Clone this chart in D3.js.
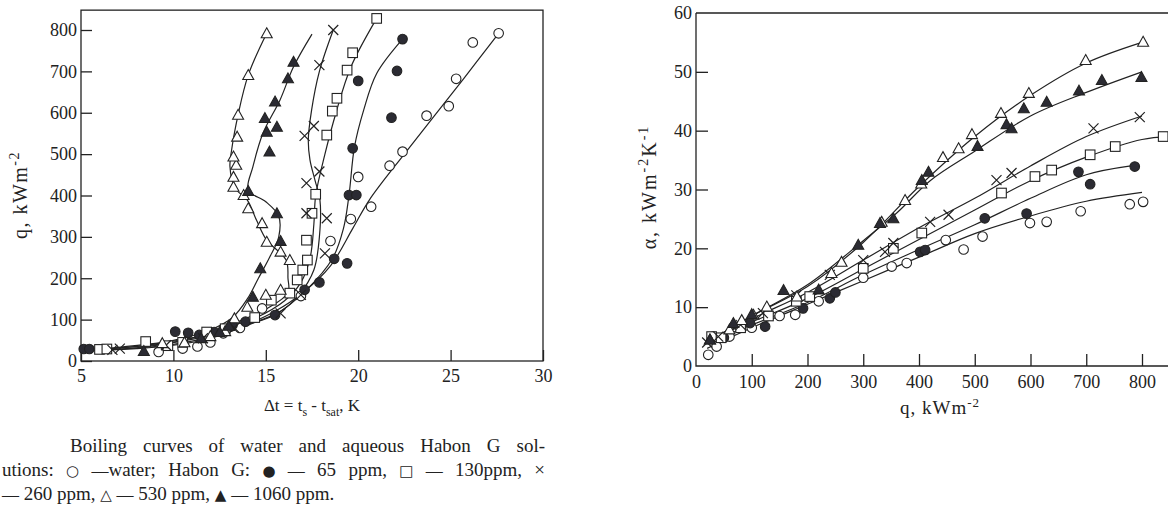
<!DOCTYPE html>
<html><head><meta charset="utf-8">
<script src="https://cdn.jsdelivr.net/npm/d3@7"></script>
<style>
html,body{margin:0;padding:0;background:#fff;}
svg{display:block;font-family:"Liberation Serif","Times New Roman",serif;}
</style></head>
<body><svg id="c" width="1168" height="520"></svg>
<script>
// ---------- DATA ----------
const seriesNames = ["water", "65 ppm", "130 ppm", "260 ppm", "530 ppm", "1060 ppm"];
const leftXTicks = [5, 10, 15, 20, 25, 30];
const leftYTicks = [0, 100, 200, 300, 400, 500, 600, 700, 800];
const rightXTicks = [0, 100, 200, 300, 400, 500, 600, 700, 800];
const rightYTicks = [0, 10, 20, 30, 40, 50, 60];

// Boiling curves: [delta t (K), q (kW/m2)]
const boilWater = [[9.2,22],[10.5,30],[11.3,35],[12.0,45],[12.7,67],[13.6,80],[14.8,127],[16.9,157],[18.5,290],[19.6,343],[20.7,373],[20.0,445],[21.7,472],[22.4,506],[23.7,593],[24.9,616],[25.3,682],[26.2,770],[27.6,792]];
const boil65 = [[5.15,29],[5.45,29],[10.1,71],[10.8,68],[11.4,63],[12.2,70],[13.2,87],[13.9,95],[15.5,111],[17.1,172],[17.9,190],[18.7,247],[19.4,236],[19.5,401],[19.9,401],[19.7,514],[20.0,677],[21.8,588],[22.1,701],[22.4,778]];
const boil130 = [[6.0,28],[6.4,29],[8.5,47],[9.7,37],[10.5,45],[11.8,70],[12.8,78],[14.4,105],[15.3,147],[16.3,164],[16.7,196],[17.0,220],[17.25,244],[17.2,292],[17.5,357],[17.7,403],[18.3,546],[18.6,604],[18.85,635],[19.4,703],[19.7,745],[21.0,828]];
const boil260 = [[6.7,27],[7.1,30],[9.6,38],[11.6,55],[13.3,80],[15.8,115],[16.9,160],[18.2,260],[17.2,357],[18.3,345],[17.2,430],[17.9,458],[17.1,544],[17.6,568],[17.9,715],[18.65,800]];
const boil530 = [[9.4,43],[10.6,45],[12.0,60],[12.8,72],[13.3,103],[14.0,131],[15.0,160],[15.8,172],[16.3,244],[15.8,264],[15.05,288],[14.8,333],[14.05,369],[13.8,401],[13.25,421],[13.25,445],[13.4,474],[13.25,494],[13.45,542],[13.5,595],[14.05,691],[15.05,792]];
const boil1060 = [[8.4,24],[11.5,55],[12.5,70],[13.0,85],[14.3,155],[14.7,224],[15.8,290],[15.6,357],[14.05,411],[15.2,506],[15.05,554],[15.6,566],[14.95,587],[15.5,627],[16.2,683],[16.5,723]];

// Boiling curve fitted lines
const fitWater = [[5.3,25],[8,30],[10,38],[12,55],[14,88],[15.5,120],[17,165],[18.5,230],[19.7,320],[20.6,389],[22.6,506],[25.7,682],[27.6,792]];
const fit65 = [[5.3,28],[8,35],[10,45],[12,62],[14,88],[15.5,112],[17.2,172],[18.6,247],[19.2,320],[19.5,400],[19.8,518],[20.3,607],[21.0,695],[22.4,778]];
const fit130 = [[6,28],[8.5,40],[10.5,52],[12.5,72],[14.5,105],[16,145],[16.9,190],[17.4,250],[17.6,330],[17.7,400],[18.2,500],[18.8,600],[19.6,710],[21.0,828]];
const fit260 = [[6.5,27],[9,35],[11,48],[13,70],[14.5,95],[15.8,120],[16.8,160],[17.6,220],[17.9,300],[17.93,389],[17.66,437],[17.39,486],[17.3,534],[17.48,607],[17.9,700],[18.65,800]];
const fit530 = [[6,27],[8,32],[10,45],[12,68],[13.5,95],[15,125],[16.2,165],[16.2,200],[16.1,244],[15.05,292],[14.5,340],[14.0,389],[13.33,418],[13.06,470],[13.15,510],[13.5,595],[14.05,691],[15.05,792]];
const fit1060 = [[6,28],[8,35],[10,50],[12,75],[13.2,105],[14.0,150],[14.6,200],[15.2,250],[15.7,300],[15.7,350],[15.0,385],[14.05,413],[14.3,469],[14.85,551],[15.77,631],[16.5,711],[17.5,790]];

// Heat transfer coefficient: [q (kW/m2), alpha (kW/m2K)]
const htcWater = [[22,1.9],[37,3.3],[60,5],[100,6.5],[150,8.5],[178,8.7],[220,11],[300,15],[351,16.9],[378,17.5],[448,21.4],[480,19.8],[514,22],[599,24.3],[629,24.5],[690,26.3],[778,27.5],[802,27.9]];
const htc65 = [[31,5],[50,4.8],[97,7.3],[124,6.7],[192,9.8],[240,11.5],[250,12.5],[402,19.4],[411,19.7],[518,25.1],[593,25.9],[686,33],[707,30.9],[787,33.9]];
const htc130 = [[28,5],[45,4.8],[80,6.5],[130,8.5],[180,11],[204,11.8],[300,16.6],[354,20],[405,22.6],[548,29.4],[608,32.2],[638,33.3],[707,35.9],[752,37.3],[838,39]];
const htc260 = [[20,4],[40,5],[80,7],[120,9],[180,12],[240,15.5],[300,18],[339,19.4],[354,20.9],[420,24.5],[453,25.7],[539,31.6],[566,32.8],[713,40.4],[796,42.3]];
const htc530 = [[25,4.5],[60,6.2],[82,7.8],[103,8.7],[127,10.1],[181,11.8],[243,15.8],[261,17.7],[333,24.5],[375,28.2],[404,31],[443,35.5],[471,37],[495,39.4],[547,43],[597,46.4],[699,52],[802,55.1]];
const htc1060 = [[25,4.5],[67,7.3],[100,8.8],[157,12.9],[220,13],[291,20.6],[330,24.3],[354,25.1],[405,31.6],[417,33],[505,37.4],[557,41.1],[566,40.4],[588,43.8],[629,44.9],[687,46.8],[728,48.6],[799,49.1]];

const htcFitWater = [[20,3],[100,6.5],[200,10.5],[300,14.5],[400,18.5],[500,22.5],[600,25.5],[700,28],[800,29.5]];
const htcFit65 = [[20,4],[100,7],[200,10.8],[300,15.5],[400,19.8],[500,24],[600,28.5],[700,32.5],[780,34]];
const htcFit130 = [[20,4.5],[100,7.5],[200,11.5],[300,16.5],[400,21.5],[500,26.5],[600,31.5],[700,35.5],[800,38.5],[850,39]];
const htcFit260 = [[20,4],[100,8],[200,12.5],[300,18],[400,23.5],[500,28.5],[600,34],[700,39],[800,42.5]];
const htcFit530 = [[20,4],[100,8.5],[200,13.5],[300,21],[400,30.5],[500,39],[600,46],[700,51.5],[800,55]];
const htcFit1060 = [[20,4],[100,8.5],[200,13.8],[300,21.3],[360,26],[420,31.5],[500,36.5],[600,42.5],[700,46.5],[800,50]];

const captionLines = [
  "Boiling curves of water and aqueous Habon G sol-",
  "utions: \u25CB \u2014water; Habon G: \u25CF \u2014 65 ppm, \u25A1 \u2014 130ppm, \u00D7",
  "\u2014 260 ppm, \u25B3 \u2014 530 ppm, \u25B2 \u2014 1060 ppm."
];

// ---------- DRAWING ----------
const svg = d3.select("#c");
const ink = "#222";
const shapes = ["circleOpen","circleFilled","square","times","triOpen","triFilled"];

function marker(g, pts, xs, ys, shape, sz) {
  const sel = g.append("g");
  pts.forEach(p => {
    const cx = xs(p[0]), cy = ys(p[1]);
    if (shape === "circleOpen" || shape === "circleFilled") {
      sel.append("circle").attr("cx", cx).attr("cy", cy).attr("r", sz*0.48)
        .attr("fill", shape === "circleFilled" ? "#2b2b33" : "#fff")
        .attr("stroke", ink).attr("stroke-width", 1.1);
    } else if (shape === "square") {
      sel.append("rect").attr("x", cx - sz*0.48).attr("y", cy - sz*0.48).attr("width", sz*0.96).attr("height", sz*0.96)
        .attr("fill", "#fff").attr("stroke", ink).attr("stroke-width", 1.1);
    } else if (shape === "times") {
      const h = sz*0.5;
      sel.append("path").attr("d", `M${cx-h},${cy-h}L${cx+h},${cy+h}M${cx-h},${cy+h}L${cx+h},${cy-h}`)
        .attr("stroke", ink).attr("stroke-width", 1.2).attr("fill", "none");
    } else {
      const h = sz*0.55;
      sel.append("path").attr("d", `M${cx},${cy-h}L${cx+h},${cy+h*0.8}L${cx-h},${cy+h*0.8}Z`)
        .attr("fill", shape === "triFilled" ? "#2b2b33" : "#fff")
        .attr("stroke", ink).attr("stroke-width", 1.1);
    }
  });
}

function drawCurve(g, pts, xs, ys) {
  const line = d3.line().x(d => xs(d[0])).y(d => ys(d[1])).curve(d3.curveCatmullRom.alpha(0.5));
  g.append("path").attr("d", line(pts)).attr("fill", "none").attr("stroke", ink).attr("stroke-width", 1.2);
}

function styleAxis(a) {
  a.select(".domain").remove();
  a.selectAll("line").attr("stroke", ink).attr("stroke-width", 1.3);
  a.selectAll("text").attr("font-family", "Liberation Serif").attr("font-size", 18).attr("fill", ink);
}

// ---- Left chart ----
const lx = d3.scaleLinear().domain([5, 30]).range([81, 543]);
const ly = d3.scaleLinear().domain([0, 800]).range([361, 30]);
const L = svg.append("g");
L.append("rect").attr("x", lx(5)).attr("y", ly(848)).attr("width", lx(30) - lx(5)).attr("height", ly(0) - ly(848))
  .attr("fill", "none").attr("stroke", ink).attr("stroke-width", 1.3);

const lxa = L.append("g").attr("transform", `translate(0,${ly(0)})`)
  .call(d3.axisBottom(lx).tickValues(leftXTicks).tickSize(-11).tickSizeOuter(0).tickPadding(17));
const lya = L.append("g").attr("transform", `translate(${lx(5)},0)`)
  .call(d3.axisLeft(ly).tickValues(leftYTicks).tickSize(-11).tickSizeOuter(0).tickPadding(6));
styleAxis(lxa); styleAxis(lya);
lya.selectAll("text").attr("x", -4);
lxa.selectAll("text").attr("y", 8);

const leftCurves = [fitWater, fit65, fit130, fit260, fit530, fit1060];
const leftPts = [boilWater, boil65, boil130, boil260, boil530, boil1060];
leftCurves.forEach(c => drawCurve(L, c, lx, ly));
leftPts.forEach((p, i) => marker(L, p, lx, ly, shapes[i], 10));

// axis titles
L.append("text").attr("transform", "translate(27,195) rotate(-90)").attr("text-anchor", "middle")
  .attr("font-size", 20).attr("letter-spacing", 1.5).attr("fill", ink)
  .html('q, kWm<tspan dy="-8" font-size="14">-2</tspan>');
L.append("text").attr("x", 312).attr("y", 411).attr("text-anchor", "middle").attr("font-size", 17).attr("fill", ink)
  .html('Δt = t<tspan dy="5" font-size="12">s</tspan><tspan dy="-5"> - t</tspan><tspan dy="5" font-size="12">sat</tspan><tspan dy="-5">, K</tspan>');

// ---- Right chart ----
const rx = d3.scaleLinear().domain([0, 800]).range([696, 1142]);
const ry = d3.scaleLinear().domain([0, 60]).range([366, 13]);
const R = svg.append("g");
R.append("path").attr("d", `M${rx(0)},${ry(60)}L${rx(0)},${ry(0)}L${rx(860)},${ry(0)}M${rx(0)},${ry(60)}L${rx(860)},${ry(60)}`)
  .attr("fill", "none").attr("stroke", ink).attr("stroke-width", 1.3);
const rxa = R.append("g").attr("transform", `translate(0,${ry(0)})`)
  .call(d3.axisBottom(rx).tickValues(rightXTicks).tickSize(-12).tickSizeOuter(0).tickPadding(17));
const rya = R.append("g").attr("transform", `translate(${rx(0)},0)`)
  .call(d3.axisLeft(ry).tickValues(rightYTicks).tickSize(-12).tickSizeOuter(0).tickPadding(6));
styleAxis(rxa); styleAxis(rya);
rya.selectAll("text").attr("x", -4);
rxa.selectAll("text").attr("y", 9);
rxa.selectAll(".tick").filter(d => d === 0).select("line").remove();
rya.selectAll(".tick").filter(d => d === 0 || d === 60).select("line").remove();

const rightCurves = [htcFitWater, htcFit65, htcFit130, htcFit260, htcFit530, htcFit1060];
const rightPts = [htcWater, htc65, htc130, htc260, htc530, htc1060];
rightCurves.forEach(c => drawCurve(R, c, rx, ry));
rightPts.forEach((p, i) => marker(R, p, rx, ry, shapes[i], 10));

R.append("text").attr("transform", "translate(656,187) rotate(-90)").attr("text-anchor", "middle")
  .attr("font-size", 20).attr("letter-spacing", 2).attr("fill", ink)
  .html('α, kWm<tspan dy="-8" font-size="14">-2</tspan><tspan dy="8">K</tspan><tspan dy="-8" font-size="14">-1</tspan>');
R.append("text").attr("x", 940).attr("y", 414).attr("text-anchor", "middle").attr("font-size", 19).attr("letter-spacing", 1).attr("fill", ink)
  .html('q, kWm<tspan dy="-7" font-size="13">-2</tspan>');

// ---- Caption ----
const cap = svg.append("g").attr("font-size", 19).attr("fill", ink);
const capX = [70, 2, 2], capY = [452, 476, 500], capRight = [545, 545, null];
const symRe = /([\u25CB\u25CF\u25A1\u25B3\u25B2\u2014])/;
captionLines.forEach((s, i) => {
  const t = cap.append("text").attr("x", capX[i]).attr("y", capY[i]);
  s.split(symRe).filter(p => p.length).forEach(p => {
    const sp = t.append("tspan").text(p);
    if (p === "\u2014") sp.attr("font-size", 17);
    else if (p.length === 1 && symRe.test(p)) sp.attr("font-family", "DejaVu Sans").attr("font-size", 15);
  });
  if (capRight[i]) {
    const w = t.node().getComputedTextLength();
    const n = (s.match(/ /g) || []).length;
    t.attr("word-spacing", ((capRight[i] - capX[i] - w) / n).toFixed(2));
  }
});
</script></body></html>
